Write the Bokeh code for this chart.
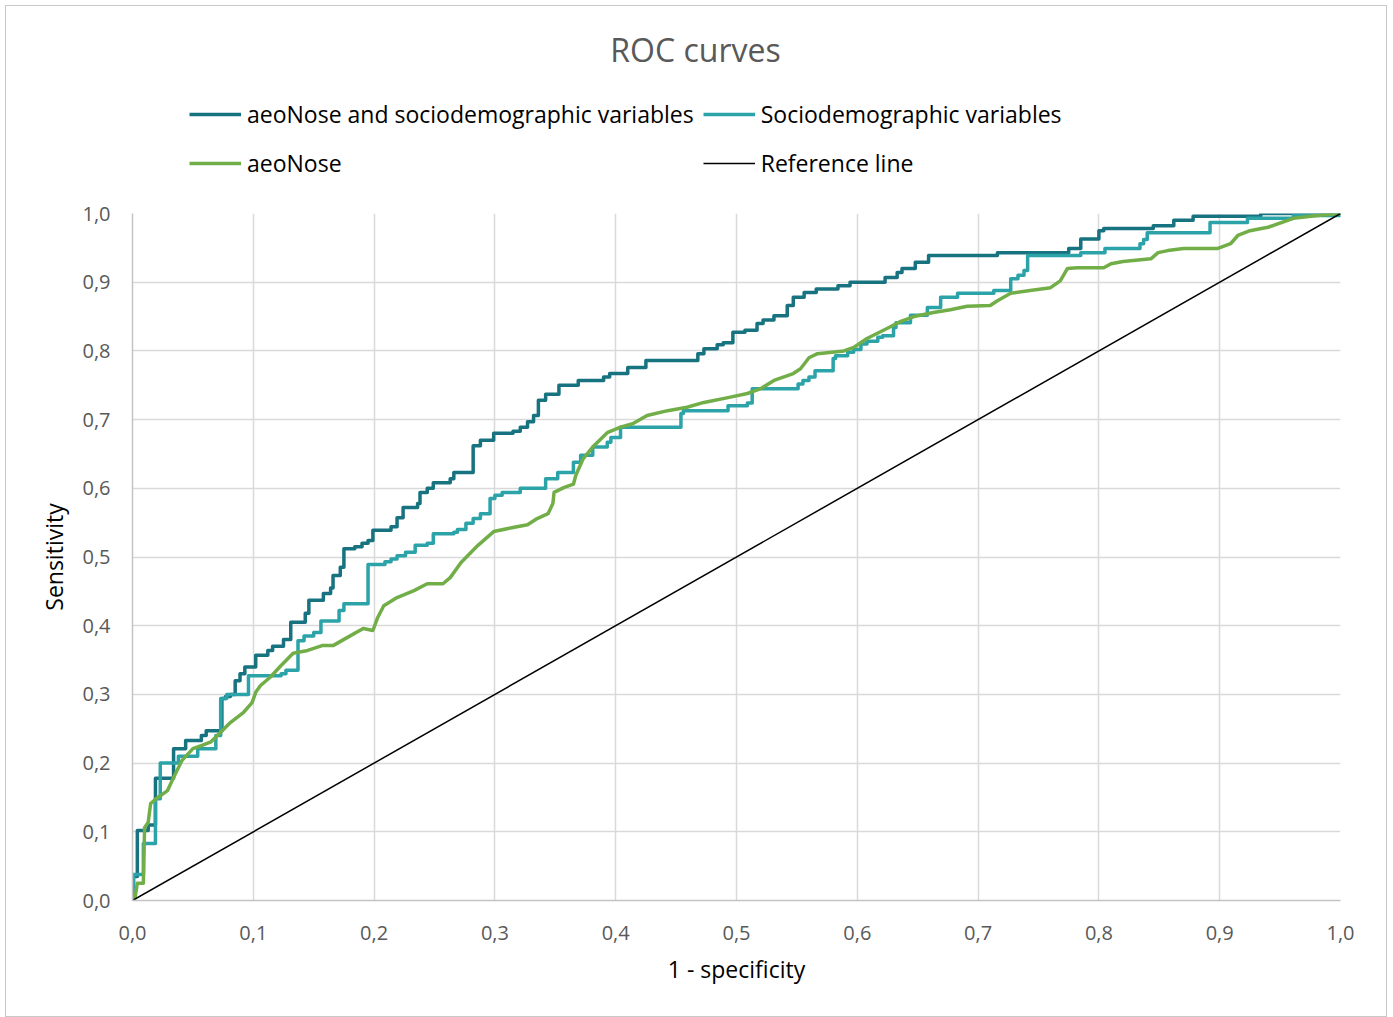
from bokeh.plotting import figure
from bokeh.models import FixedTicker, Legend, LegendItem, Label, Range1d
from bokeh.layouts import column
from bokeh.embed import file_html
from bokeh.resources import INLINE

# ---- data ----
combo_fpr = [0, 0, 0.004, 0.013, 0.019, 0.034, 0.044, 0.057, 0.061, 0.074, 0.077, 0.081, 0.085, 0.089, 0.093,
             0.102, 0.112, 0.116, 0.125, 0.131, 0.143, 0.146, 0.158, 0.164, 0.166, 0.172, 0.175, 0.184, 0.19, 0.195,
             0.199, 0.214, 0.219, 0.224, 0.236, 0.238, 0.244, 0.249, 0.263, 0.266, 0.282, 0.288, 0.299, 0.315, 0.321,
             0.327, 0.332, 0.336, 0.342, 0.353, 0.369, 0.39, 0.395, 0.41, 0.425, 0.468, 0.473, 0.484, 0.489, 0.497,
             0.507, 0.517, 0.522, 0.531, 0.542, 0.547, 0.556, 0.566, 0.584, 0.594, 0.623, 0.633, 0.637, 0.648, 0.659,
             0.716, 0.775, 0.785, 0.8, 0.804, 0.845, 0.862, 0.878, 0.934, 1.0]
combo_tpr = [0, 0.035, 0.102, 0.11, 0.178, 0.221, 0.233, 0.24, 0.247, 0.294, 0.297, 0.30, 0.32, 0.33, 0.34,
             0.357, 0.364, 0.37, 0.38, 0.405, 0.418, 0.437, 0.447, 0.455, 0.473, 0.485, 0.512, 0.515, 0.52, 0.524,
             0.539, 0.544, 0.557, 0.572, 0.578, 0.594, 0.60, 0.608, 0.614, 0.623, 0.662, 0.67, 0.68, 0.683, 0.689,
             0.697, 0.706, 0.728, 0.737, 0.75, 0.757, 0.762, 0.767, 0.776, 0.786, 0.796, 0.803, 0.809, 0.812, 0.827,
             0.83, 0.84, 0.845, 0.851, 0.866, 0.878, 0.885, 0.89, 0.895, 0.9, 0.907, 0.914, 0.92, 0.929, 0.939,
             0.943, 0.949, 0.963, 0.975, 0.978, 0.982, 0.99, 0.996, 1.0, 1.0]

socio_fpr = [0.0, 0.001, 0.009, 0.019, 0.023, 0.038, 0.054, 0.069, 0.073, 0.078, 0.096, 0.123, 0.127, 0.137, 0.142,
             0.150, 0.156, 0.171, 0.175, 0.195, 0.209, 0.214, 0.219, 0.226, 0.234, 0.244, 0.249, 0.266, 0.269, 0.276,
             0.282, 0.288, 0.296, 0.300, 0.306, 0.321, 0.342, 0.352, 0.365, 0.371, 0.381, 0.393, 0.396, 0.404, 0.454,
             0.456, 0.493, 0.509, 0.513, 0.551, 0.555, 0.560, 0.565, 0.580, 0.582, 0.592, 0.597, 0.603, 0.608, 0.617,
             0.621, 0.630, 0.632, 0.644, 0.658, 0.669, 0.683, 0.713, 0.727, 0.733, 0.738, 0.741, 0.785, 0.805, 0.834,
             0.837, 0.840, 0.892, 0.923, 0.961, 1.0]
socio_tpr = [0.0, 0.038, 0.083, 0.148, 0.200, 0.210, 0.221, 0.240, 0.294, 0.300, 0.327, 0.330, 0.335, 0.378, 0.385,
             0.390, 0.407, 0.422, 0.432, 0.489, 0.493, 0.497, 0.502, 0.507, 0.517, 0.520, 0.534, 0.536, 0.540, 0.549,
             0.556, 0.563, 0.585, 0.590, 0.594, 0.600, 0.614, 0.623, 0.638, 0.648, 0.660, 0.667, 0.674, 0.689, 0.709,
             0.713, 0.720, 0.724, 0.745, 0.752, 0.757, 0.762, 0.771, 0.789, 0.793, 0.798, 0.802, 0.810, 0.814, 0.820,
             0.822, 0.834, 0.841, 0.852, 0.863, 0.878, 0.884, 0.888, 0.905, 0.910, 0.917, 0.939, 0.943, 0.949, 0.956,
             0.962, 0.972, 0.987, 0.993, 0.997, 1.0]

nose_fpr = [0.0, 0.002, 0.004, 0.009, 0.010, 0.013, 0.015, 0.021, 0.029, 0.034, 0.041, 0.050, 0.058, 0.065, 0.073,
            0.081, 0.092, 0.099, 0.102, 0.106, 0.114, 0.123, 0.133, 0.145, 0.157, 0.166, 0.178, 0.191, 0.199, 0.203,
            0.208, 0.219, 0.233, 0.244, 0.257, 0.263, 0.272, 0.286, 0.299, 0.315, 0.327, 0.335, 0.344, 0.348, 0.349,
            0.357, 0.365, 0.367, 0.373, 0.382, 0.393, 0.404, 0.414, 0.426, 0.443, 0.459, 0.473, 0.493, 0.509, 0.520,
            0.531, 0.547, 0.553, 0.560, 0.567, 0.589, 0.597, 0.608, 0.625, 0.636, 0.647, 0.663, 0.677, 0.691, 0.710,
            0.716, 0.727, 0.743, 0.760, 0.768, 0.774, 0.782, 0.804, 0.810, 0.820, 0.843, 0.849, 0.857, 0.870, 0.898,
            0.909, 0.915, 0.925, 0.940, 0.961, 0.981, 1.0]
nose_tpr = [0.0, 0.003, 0.025, 0.025, 0.106, 0.114, 0.141, 0.150, 0.160, 0.179, 0.204, 0.221, 0.226, 0.231, 0.245,
            0.259, 0.274, 0.288, 0.303, 0.313, 0.325, 0.342, 0.360, 0.364, 0.371, 0.371, 0.383, 0.396, 0.393, 0.412,
            0.429, 0.441, 0.451, 0.461, 0.461, 0.470, 0.492, 0.517, 0.537, 0.543, 0.547, 0.556, 0.563, 0.578, 0.594,
            0.601, 0.606, 0.619, 0.643, 0.662, 0.681, 0.689, 0.694, 0.706, 0.713, 0.718, 0.725, 0.732, 0.738, 0.745,
            0.757, 0.767, 0.774, 0.790, 0.796, 0.800, 0.805, 0.818, 0.833, 0.843, 0.850, 0.856, 0.860, 0.865, 0.866,
            0.873, 0.884, 0.888, 0.892, 0.902, 0.920, 0.921, 0.921, 0.927, 0.930, 0.934, 0.943, 0.946, 0.949, 0.949,
            0.956, 0.968, 0.975, 0.980, 0.993, 0.997, 1.0]

ref_fpr = [0.0, 1.0]
ref_tpr = [0.0, 1.0]

tick_values = [0.0, 0.1, 0.2, 0.3, 0.4, 0.5, 0.6, 0.7, 0.8, 0.9, 1.0]
tick_labels = ["0,0", "0,1", "0,2", "0,3", "0,4", "0,5", "0,6", "0,7", "0,8", "0,9", "1,0"]

series_names = ["aeoNose and sociodemographic variables", "Sociodemographic variables", "aeoNose", "Reference line"]
title_text = "ROC curves"
x_title = "1 - specificity"
y_title = "Sensitivity"

FONT = "Open Sans"
C_COMBO = "#17737F"
C_SOCIO = "#2BA3A8"
C_NOSE = "#72AE48"
STYLES = [dict(line_color=C_COMBO, line_width=3.5), dict(line_color=C_SOCIO, line_width=3.5),
          dict(line_color=C_NOSE, line_width=3.5), dict(line_color="black", line_width=1.5)]
SERIES = [(combo_fpr, combo_tpr), (socio_fpr, socio_tpr), (nose_fpr, nose_tpr), (ref_fpr, ref_tpr)]

# ---- header: title + legend (swatch renderers lie outside the header's visible range) ----
head = figure(width=1380, height=190, x_range=Range1d(0, 1), y_range=Range1d(5, 6),
              output_backend="svg", toolbar_location=None, title=None, min_border=0)
head.axis.visible = False
head.grid.visible = False
head.outline_line_color = None
head.border_fill_color = "white"
head.background_fill_color = "white"
swatches = [head.line(xs, ys, **st) for (xs, ys), st in zip(SERIES, STYLES)]
legend = Legend(items=[LegendItem(label=n, renderers=[r]) for n, r in zip(series_names, swatches)],
                location=(57, 13), orientation="horizontal", ncols=2,
                padding=0, margin=0, spacing=9, label_height=40, glyph_height=40, glyph_width=52,
                label_standoff=6, border_line_color=None, background_fill_alpha=0,
                label_text_font=FONT, label_text_font_size="23px", label_text_color="#000000")
head.add_layout(legend, "center")
head.add_layout(Label(x=563, y=147, x_units="screen", y_units="screen", text=title_text,
                      text_align="center", text_baseline="middle", text_font=FONT,
                      text_font_size="32px", text_color="#595959"))

# ---- main plot ----
p = figure(width=1380, height=820, x_range=Range1d(0, 1), y_range=Range1d(0, 1),
           output_backend="svg", toolbar_location=None, title=None,
           min_border_left=126, min_border_right=46, min_border_top=17, min_border_bottom=116)
p.outline_line_color = None
p.background_fill_color = "white"
p.border_fill_color = "white"

for ax in (p.xaxis[0], p.yaxis[0]):
    ax.ticker = FixedTicker(ticks=tick_values)
    ax.major_label_overrides = {v: s for v, s in zip(tick_values, tick_labels)}
    ax.major_tick_line_color = None
    ax.minor_tick_line_color = None
    ax.axis_line_color = "#c4c4c4"
    ax.axis_line_width = 1.5
    ax.major_label_text_font = FONT
    ax.major_label_text_font_size = "20px"
    ax.major_label_text_color = "#595959"
    ax.axis_label_text_font = FONT
    ax.axis_label_text_font_size = "23px"
    ax.axis_label_text_font_style = "normal"
    ax.axis_label_text_color = "#000000"

p.xaxis.axis_label = x_title
p.yaxis.axis_label = y_title
p.xaxis.major_label_standoff = 19
p.xaxis.axis_label_standoff = 10
p.yaxis.major_label_standoff = 16
p.yaxis.axis_label_standoff = 9

p.xgrid.ticker = FixedTicker(ticks=tick_values)
p.ygrid.ticker = FixedTicker(ticks=tick_values)
for g in (p.xgrid[0], p.ygrid[0]):
    g.grid_line_color = "#d9d9d9"
    g.grid_line_width = 1.5

p.step(combo_fpr, combo_tpr, mode="after", line_join="round", **STYLES[0])
p.step(socio_fpr, socio_tpr, mode="after", line_join="round", **STYLES[1])
p.line(nose_fpr, nose_tpr, line_join="round", line_cap="round", **STYLES[2])
p.line(ref_fpr, ref_tpr, **STYLES[3])

layout = column(head, p, spacing=0)
layout.styles = {"margin-left": "6px", "margin-top": "6px", "outline": "1px solid #c8c8c8"}

open("out.html", "w").write(file_html(layout, INLINE))
